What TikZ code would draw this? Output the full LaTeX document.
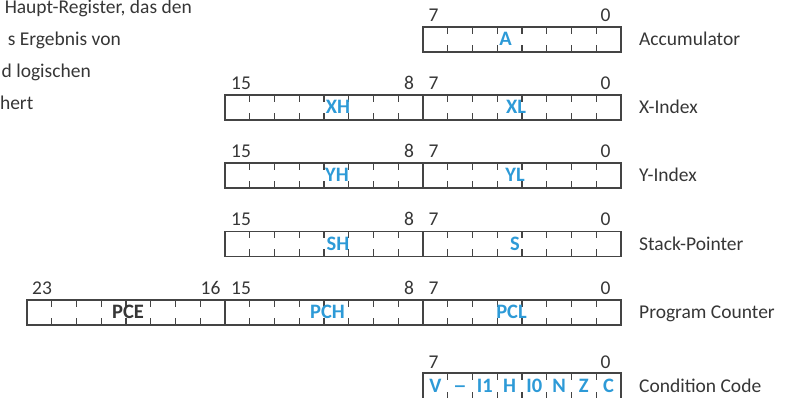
\documentclass[tikz,border=0pt]{standalone}
\usepackage{fontspec}
\setmainfont{Carlito}
\usepackage{tikz}
\usetikzlibrary{positioning}
\definecolor{regline}{HTML}{444444}
\definecolor{regtext}{HTML}{363636}
\definecolor{accent}{HTML}{2D9AD7}
\tikzset{
    regbox/.style={
        draw=regline,
        line width=1.6pt
    },
    regtick/.style={
        draw=regline,
        line width=1.3pt
    },
    bitlabel/.style={
        font=\fontsize{19.5}{23}\selectfont,
        text=regtext,
        anchor=base,
        inner sep=0pt
    },
    fieldlabel/.style={
        font=\fontsize{20.5}{24}\selectfont\bfseries,
        text=accent,
        anchor=base,
        inner sep=0pt
    },
    reglabel/.style={
        font=\fontsize{19.5}{23}\selectfont,
        text=regtext,
        anchor=base west,
        inner sep=0pt
    },
    notetext/.style={
        font=\fontsize{19.5}{23}\selectfont,
        text=regtext,
        anchor=base east,
        inner sep=0pt
    }
}

\begin{document}
\begin{tikzpicture}[x=1pt,y=-1pt]

    \def\w{24.75}

    \useasboundingbox (0,0) rectangle (796,398);

    % Text links
    \node[notetext] (note1) at (192,14) {Haupt-Register, das den};
    \node[notetext] (note2) at (121,45.5) {s Ergebnis von};
    \node[notetext] (note3) at (91,77.5) {d logischen};
    \node[notetext] (note4) at (33.5,110) {hert};

    % Accumulator
    \draw[regbox] (423,27) rectangle (621,52);
    \foreach \i in {1,...,7}
        \draw[regtick] ({423+\i*\w},27) -- ++(0,7)
            ({423+\i*\w},52) -- ++(0,-7);
    \node[bitlabel] (a7) at (433.5,21.5) {7};
    \node[bitlabel] (a0) at (605.5,21.5) {0};
    \node[fieldlabel] (fA) at (505.5,46) {A};
    \node[reglabel] (nA) at (639,46) {Accumulator};

    % X-Index
    \draw[regbox] (225,95) rectangle (621,120);
    \draw[regbox] (423,95) -- (423,120);
    \foreach \i in {1,...,7,9,10,...,15}
        \draw[regtick] ({225+\i*\w},95) -- ++(0,7)
            ({225+\i*\w},120) -- ++(0,-7);
    \node[bitlabel] (x15) at (241,89.5) {15};
    \node[bitlabel] (x8) at (409,89.5) {8};
    \node[bitlabel] (x7) at (433.5,89.5) {7};
    \node[bitlabel] (x0) at (605.5,89.5) {0};
    \node[fieldlabel] (fXH) at (338,114) {XH};
    \node[fieldlabel] (fXL) at (516,114) {XL};
    \node[reglabel] (nX) at (639,114) {X-Index};

    % Y-Index
    \draw[regbox] (225,163) rectangle (621,188);
    \draw[regbox] (423,163) -- (423,188);
    \foreach \i in {1,...,7,9,10,...,15}
        \draw[regtick] ({225+\i*\w},163) -- ++(0,7)
            ({225+\i*\w},188) -- ++(0,-7);
    \node[bitlabel] (y15) at (241,157.5) {15};
    \node[bitlabel] (y8) at (409,157.5) {8};
    \node[bitlabel] (y7) at (433.5,157.5) {7};
    \node[bitlabel] (y0) at (605.5,157.5) {0};
    \node[fieldlabel] (fYH) at (337,182) {YH};
    \node[fieldlabel] (fYL) at (515,182) {YL};
    \node[reglabel] (nY) at (639,182) {Y-Index};

    % Stack-Pointer
    \draw[regbox] (225,231.5) rectangle (621,256.5);
    \draw[regbox] (423,231.5) -- (423,256.5);
    \foreach \i in {1,...,7,9,10,...,15}
        \draw[regtick] ({225+\i*\w},231.5) -- ++(0,7)
            ({225+\i*\w},256.5) -- ++(0,-7);
    \node[bitlabel] (s15) at (241,226) {15};
    \node[bitlabel] (s8) at (409,226) {8};
    \node[bitlabel] (s7) at (433.5,226) {7};
    \node[bitlabel] (s0) at (605.5,226) {0};
    \node[fieldlabel] (fSH) at (338,250.5) {SH};
    \node[fieldlabel] (fS) at (515,250.5) {S};
    \node[reglabel] (nS) at (639,250.5) {Stack-Pointer};

    % Program Counter
    \draw[regbox] (27,300) rectangle (621,325);
    \draw[regbox] (225,300) -- (225,325);
    \draw[regbox] (423,300) -- (423,325);
    \foreach \i in {1,...,7,9,10,...,15,17,18,...,23}
        \draw[regtick] ({27+\i*\w},300) -- ++(0,7)
            ({27+\i*\w},325) -- ++(0,-7);
    \node[bitlabel] (p23) at (42,294.5) {23};
    \node[bitlabel] (p16) at (210.5,294.5) {16};
    \node[bitlabel] (p15) at (241,294.5) {15};
    \node[bitlabel] (p8) at (409,294.5) {8};
    \node[bitlabel] (p7) at (433.5,294.5) {7};
    \node[bitlabel] (p0) at (605.5,294.5) {0};
    \node[fieldlabel,text=regtext] (fPCE) at (128,319) {PCE};
    \node[fieldlabel] (fPCH) at (327.5,319) {PCH};
    \node[fieldlabel] (fPCL) at (511.5,319) {PCL};
    \node[reglabel] (nPC) at (639,319) {Program Counter};

    % Condition Code
    \draw[regbox] (423,373) rectangle (621,399);
    \foreach \i in {1,...,7}
        \draw[regtick] ({423+\i*\w},373) -- ++(0,7)
            ({423+\i*\w},399) -- ++(0,-7);
    \node[bitlabel] (c7) at (433.5,368.5) {7};
    \node[bitlabel] (c0) at (605.5,368.5) {0};
    \foreach \f [count=\i from 0] in {V,\scalebox{1.35}[1]{\textendash},I1,H,I0,N,Z,C}
        \node[fieldlabel] (cc\i) at ({423+(\i+0.5)*\w},392.5) {\f};
    \node[reglabel] (nCC) at (639,392) {Condition Code};

\end{tikzpicture}
\end{document}
